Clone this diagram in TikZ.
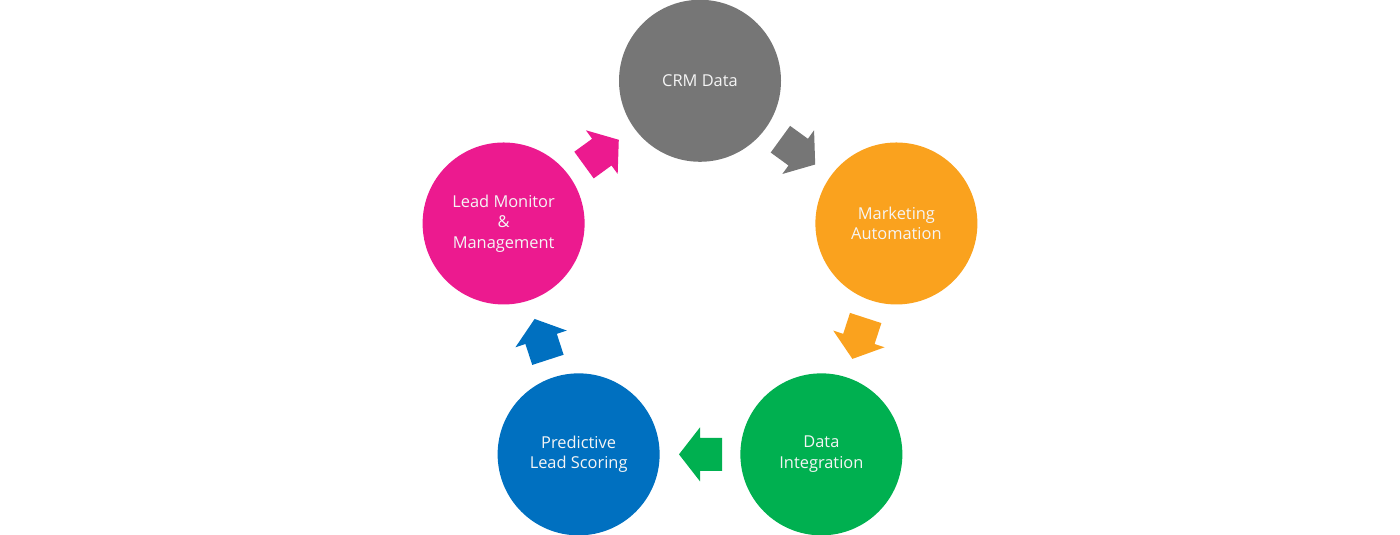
\documentclass[tikz,border=0pt]{standalone}
\usepackage{fontspec}
\setmainfont{Open Sans}
\usetikzlibrary{calc}
\definecolor{crmgray}{HTML}{767676}
\definecolor{mktorange}{HTML}{FAA21E}
\definecolor{intgreen}{HTML}{00B050}
\definecolor{scoreblue}{HTML}{0070C0}
\definecolor{leadpink}{HTML}{EC1A8F}
\begin{document}
\begin{tikzpicture}[x=1pt,y=1pt,
  stage/.style={circle, minimum size=162pt, inner sep=0pt, text=white!96!black, align=center,
    font=\fontsize{16.4}{20.5}\selectfont},
  blockarrow/.pic={\fill[pic actions] (-22,-16.5) -- (0,-16.5) -- (0,-27) -- (21,0) -- (0,27) -- (0,16.5) -- (-22,16.5) -- cycle;}]
\useasboundingbox (0,0) rectangle (1400,535);
\coordinate (o) at (700,247.7);
\node[stage, fill=crmgray] (crm) at ($(o)+(90:206.5)$) {CRM Data};
\node[stage, fill=mktorange] (mkt) at ($(o)+(18:206.5)$) {Marketing\\Automation};
\node[stage, fill=intgreen] (int) at ($(o)+(-54:206.5)$) {Data\\Integration};
\node[stage, fill=scoreblue] (score) at ($(o)+(-126:206.5)$) {Predictive\\Lead Scoring};
\node[stage, fill=leadpink] (lead) at ($(o)+(162:206.5)$) {Lead Monitor\\\&\\Management};
\pic[fill=crmgray, rotate=-36] at ($(crm)!0.5!(mkt)$) {blockarrow};
\pic[fill=mktorange, rotate=-108] at ($(mkt)!0.5!(int)$) {blockarrow};
\pic[fill=intgreen, rotate=180] at ($(int)!0.5!(score)$) {blockarrow};
\pic[fill=scoreblue, rotate=108] at ($(score)!0.5!(lead)$) {blockarrow};
\pic[fill=leadpink, rotate=36] at ($(lead)!0.5!(crm)$) {blockarrow};
\end{tikzpicture}
\end{document}
